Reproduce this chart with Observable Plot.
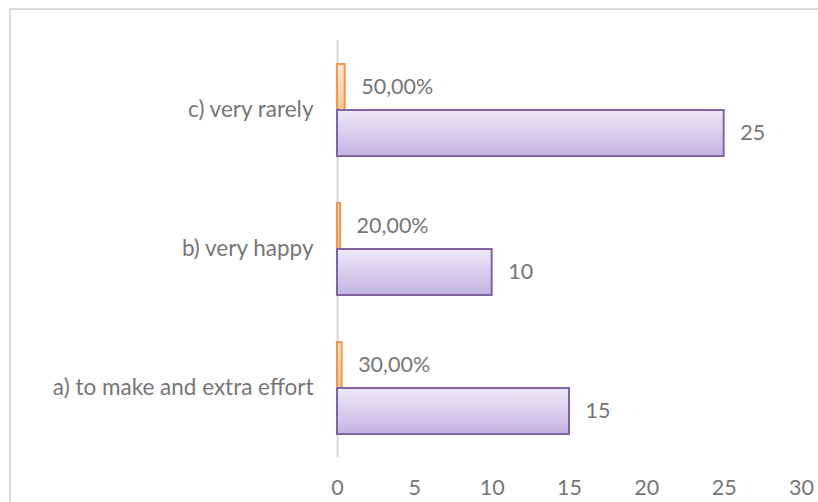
<!DOCTYPE html>
<html><head><meta charset="utf-8">
<script src="https://cdn.jsdelivr.net/npm/d3@7"></script>
<script src="https://cdn.jsdelivr.net/npm/@observablehq/plot@0.6"></script>
<style>
html,body{margin:0;padding:0;background:#fff;overflow:hidden}
#wrap{position:relative;width:818px;height:502px;overflow:hidden}
#border{position:absolute;left:9px;top:8px;width:900px;height:600px;border:2px solid #d9d9d9;box-sizing:border-box}
#wrap svg{position:absolute;left:0;top:0}
</style></head><body><div id="wrap"><div id="border"></div></div>
<script>
const categories = ["a) to make and extra effort", "b) very happy", "c) very rarely"];
const counts = [15, 10, 25];
const shares = [0.30, 0.20, 0.50];
const xTicks = [0, 5, 10, 15, 20, 25, 30];

const rows = [];
categories.forEach((c, i) => {
  rows.push({cat: c, series: "share", value: shares[i], label: (shares[i] * 100).toFixed(2).replace(".", ",") + "%"});
  rows.push({cat: c, series: "count", value: counts[i], label: String(counts[i])});
});

const defs = () => {
  const s = d3.create("svg:defs");
  const g1 = s.append("linearGradient").attr("id", "gPurple").attr("x1", 0).attr("y1", 0).attr("x2", 0).attr("y2", 1);
  g1.append("stop").attr("offset", "0%").attr("stop-color", "#eee9f7");
  g1.append("stop").attr("offset", "100%").attr("stop-color", "#c4b3e2");
  const g2 = s.append("linearGradient").attr("id", "gOrange").attr("x1", 0).attr("y1", 0).attr("x2", 0).attr("y2", 1);
  g2.append("stop").attr("offset", "0%").attr("stop-color", "#fee8d6");
  g2.append("stop").attr("offset", "100%").attr("stop-color", "#fbc596");
  return s.node();
};

const chart = Plot.plot({
  width: 818, height: 502,
  marginLeft: 337, marginRight: 17, marginTop: 39, marginBottom: 44,
  style: {fontFamily: "Lato", fontSize: "21px", color: "#767676", background: "transparent"},
  x: {domain: [0, 30], axis: null},
  y: {domain: ["share", "count"], paddingInner: 0, paddingOuter: 0.486, axis: null},
  fy: {domain: [...categories].reverse(), padding: 0, axis: null},
  marks: [
    defs,
    Plot.axisX({ticks: xTicks, tickSize: 0, tickPadding: 22, fontSize: 21.5, label: null, tickFormat: d => String(d)}),
    Plot.axisFy({anchor: "left", tickSize: 0, tickPadding: 24, fontSize: 22.5, label: null}),
    Plot.ruleX([0], {stroke: "#d9d9d9", strokeWidth: 2}),
    Plot.barX(rows.filter(d => d.series === "share"), {fy: "cat", y: "series", x: "value", fill: "url(#gOrange)", stroke: "#f79646", strokeWidth: 2}),
    Plot.barX(rows.filter(d => d.series === "count"), {fy: "cat", y: "series", x: "value", fill: "url(#gPurple)", stroke: "#8064a2", strokeWidth: 2}),
    Plot.text(rows, {fy: "cat", y: "series", x: "value", text: "label", dx: 16, textAnchor: "start", fontSize: 21.5})
  ]
});
document.getElementById("wrap").appendChild(chart);
</script></body></html>
